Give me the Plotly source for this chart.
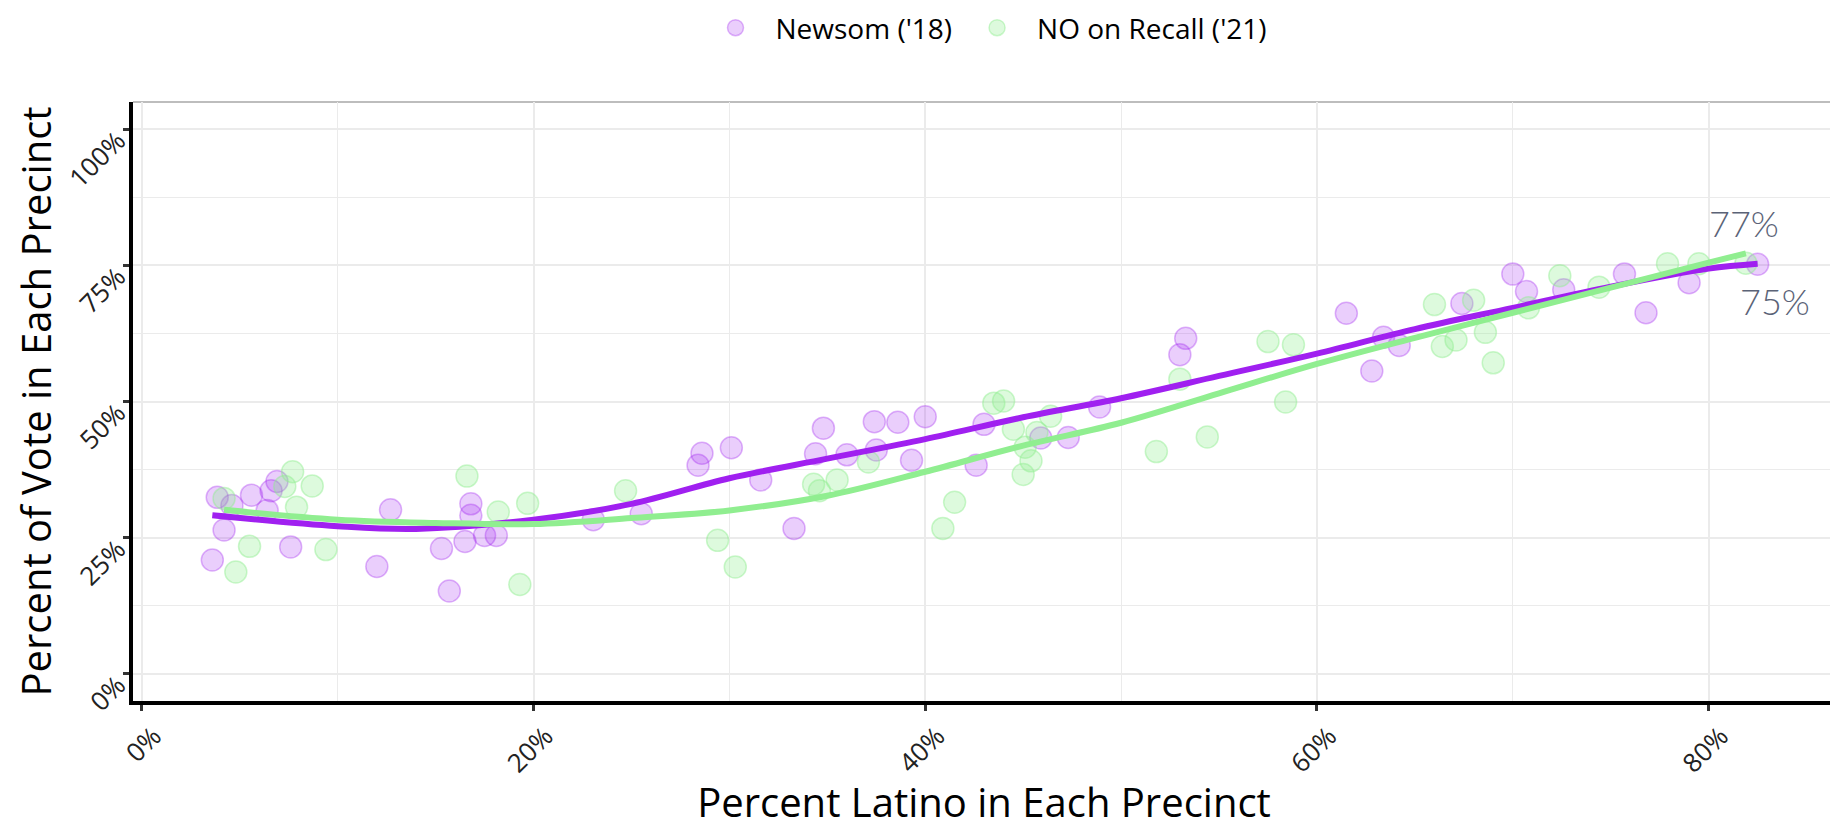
import plotly.graph_objects as go

# Newsom 2018 share by precinct (x = % Latino, y = % vote)
newsom_x = [3.6, 3.85, 4.2, 4.6, 5.6, 6.4, 6.6, 6.9, 7.6, 12.0, 12.7, 15.3, 15.7, 16.5,
            16.8, 16.8, 17.5, 18.1, 23.05, 25.5, 28.4, 28.6, 30.1, 31.6, 33.3, 34.4,
            34.8, 36.0, 37.4, 37.5, 38.6, 39.3, 40.0, 42.6, 43.0, 45.9, 47.3, 48.9,
            53.0, 53.3, 61.5, 62.8, 63.4, 64.2, 67.4, 70.0, 70.7, 72.6, 75.7, 76.8,
            79.0, 82.5]
newsom_y = [20.9, 32.4, 26.4, 30.9, 32.8, 30.0, 33.6, 35.3, 23.3, 19.7, 30.1, 23.0, 15.2, 24.3,
            31.2, 29.1, 25.4, 25.4, 28.3, 29.4, 38.3, 40.5, 41.5, 35.6, 26.7, 40.4,
            45.1, 40.2, 46.3, 41.1, 46.2, 39.2, 47.2, 38.3, 45.8, 43.3, 43.4, 49.0,
            58.6, 61.6, 66.2, 55.6, 61.8, 60.3, 68.0, 73.4, 70.2, 70.5, 73.4, 66.3,
            71.8, 75.2]

# NO on Recall 2021 share by precinct
recall_x = [4.2, 4.8, 5.5, 7.3, 7.7, 7.9, 8.7, 9.4, 16.6, 18.2, 19.3, 19.7, 24.7, 29.4,
            30.3, 34.3, 34.6, 35.5, 37.1, 40.9, 41.5, 43.5, 44.0, 44.5, 45.0, 45.1,
            45.4, 45.7, 46.4, 51.8, 53.0, 54.4, 57.5, 58.4, 58.8, 66.0, 66.4, 67.1,
            68.0, 68.6, 69.0, 70.8, 72.4, 74.4, 77.9, 79.5, 81.9]
recall_y = [32.2, 18.7, 23.4, 34.4, 37.1, 30.6, 34.5, 22.8, 36.3, 29.7, 16.4, 31.3, 33.6, 24.5,
            19.6, 34.8, 33.6, 35.6, 38.9, 26.7, 31.5, 49.7, 50.1, 44.9, 36.6, 41.6,
            39.1, 44.3, 47.3, 40.8, 54.1, 43.5, 61.0, 49.9, 60.4, 67.8, 60.1, 61.3,
            68.6, 62.7, 57.1, 67.2, 73.1, 71.0, 75.3, 75.3, 75.4]

# smoothed trend lines
newsom_fit_x = [3.6, 10, 14, 20, 25, 30, 35, 40, 45, 50, 55, 60, 65, 70, 75, 80, 82.5]
newsom_fit_y = [29.1, 27.1, 26.6, 28.3, 31.2, 35.9, 39.5, 43.1, 47.1, 50.6, 54.7, 58.8,
                63.3, 67.2, 71.1, 74.4, 75.3]
recall_fit_x = [4.2, 10, 15, 20, 25, 30, 35, 40, 45, 50, 55, 60, 65, 70, 75, 80, 81.9]
recall_fit_y = [30.1, 28.3, 27.7, 27.5, 28.6, 30.0, 32.7, 37.1, 41.9, 46.1, 51.5, 56.9,
                61.7, 66.3, 70.9, 75.5, 77.2]

PURPLE = '#A020F0'
GREEN = '#90EE90'
FONT = 'Open Sans'

fig = go.Figure()

fig.add_trace(go.Scatter(
    x=newsom_x, y=newsom_y, mode='markers', name="Newsom ('18)",
    marker=dict(size=22, color='rgba(160,32,240,0.22)',
                line=dict(color='rgba(160,32,240,0.32)', width=1.5)),
))
fig.add_trace(go.Scatter(
    x=recall_x, y=recall_y, mode='markers', name="NO on Recall ('21)",
    marker=dict(size=22, color='rgba(144,238,144,0.3)',
                line=dict(color='rgba(144,238,144,0.45)', width=1.5)),
))
fig.add_trace(go.Scatter(
    x=newsom_fit_x, y=newsom_fit_y, mode='lines', line=dict(color=PURPLE, width=6, shape='spline'),
    showlegend=False, hoverinfo='skip',
))
fig.add_trace(go.Scatter(
    x=recall_fit_x, y=recall_fit_y, mode='lines', line=dict(color=GREEN, width=6, shape='spline'),
    showlegend=False, hoverinfo='skip',
))

# end labels
fig.add_annotation(x=recall_fit_x[-1] - 0.1, y=recall_fit_y[-1] + 5.6,
                   text=f"{round(recall_fit_y[-1])}%", showarrow=False,
                   font=dict(family='Lato', size=36, color='#5b6377', weight=300))
fig.add_annotation(x=newsom_fit_x[-1] + 0.9, y=newsom_fit_y[-1] - 6.9,
                   text=f"{round(newsom_fit_y[-1])}%", showarrow=False,
                   font=dict(family='Lato', size=36, color='#5b6377', weight=300))

# grey panel border on top / right
fig.add_shape(type='line', xref='paper', yref='paper', x0=0, x1=1, y0=1, y1=1,
              line=dict(color='#bdbdbd', width=2), layer='below')
fig.add_shape(type='line', xref='paper', yref='paper', x0=1, x1=1, y0=0, y1=1,
              line=dict(color='#bdbdbd', width=2), layer='below')

axis_common = dict(
    showline=True, linecolor='black', linewidth=3.5,
    ticks='outside', ticklen=6, tickwidth=3, tickcolor='#333333',
    tickangle=-45, ticksuffix='%', tickmode='linear', tick0=0,
    tickfont=dict(family=FONT, size=26, color='#222222'),
    showgrid=True, gridcolor='#ebebeb', gridwidth=2,
    zeroline=False,
)

fig.update_layout(
    width=1830, height=821,
    margin=dict(l=125, r=3, t=94, b=118),
    plot_bgcolor='white', paper_bgcolor='white',
    font=dict(family=FONT, color='black'),
    xaxis=dict(range=[-0.45, 86.45], dtick=20, ticklabelshift=12,
               minor=dict(dtick=10, showgrid=True, gridcolor='#ebebeb', gridwidth=1.2),
               title=dict(text='Percent Latino in Each Precinct', font=dict(size=40, family=FONT), standoff=18),
               **axis_common),
    yaxis=dict(range=[-5, 105], dtick=25, ticklabelshift=8,
               minor=dict(dtick=12.5, showgrid=True, gridcolor='#ebebeb', gridwidth=1.2),
               title=dict(text='Percent of Vote in Each Precinct', font=dict(size=40, family=FONT), standoff=8),
               **axis_common),
    legend=dict(orientation='h', x=0.5, xanchor='center', xref='paper',
                y=1 - 20 / 821, yanchor='middle', yref='container', itemwidth=70,
                font=dict(family=FONT, size=28, color='black'), itemsizing='trace'),
)

fig.write_html("out.html")
